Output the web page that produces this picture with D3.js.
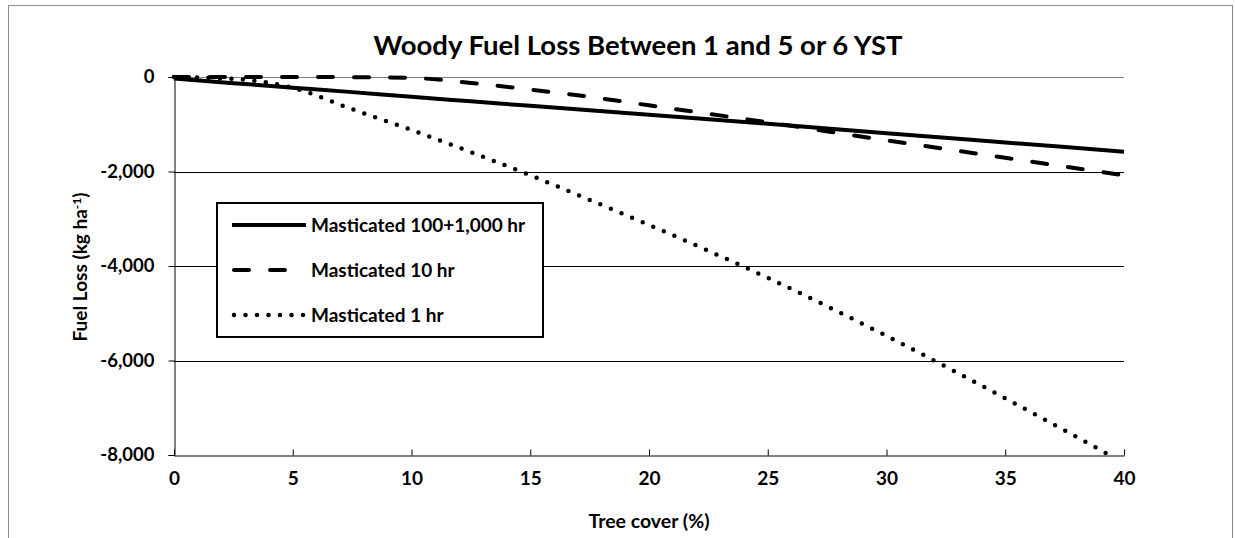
<!DOCTYPE html>
<html>
<head>
<meta charset="utf-8">
<script src="https://cdn.jsdelivr.net/npm/d3@7"></script>
<style>
  body { margin: 0; background: #fff; }
  text { font-family: Lato, "Open Sans", sans-serif; font-weight: bold; fill: #000; }
</style>
</head>
<body>
<div id="chart"></div>
<script>
// tree cover (%) where the curves were read
var coverX = [0, 2.5, 5, 7.5, 10, 12.5, 15, 17.5, 20, 25, 30, 35, 40];
// Masticated 100+1,000 hr
var loss1000 = [-30, -130, -225, -320, -420, -515, -610, -705, -800, -990, -1190, -1385, -1580];
// Masticated 10 hr
var loss10 = [0, 0, 0, -5, -20, -125, -265, -420, -600, -960, -1340, -1710, -2080];
// Masticated 1 hr
var loss1 = [0, -40, -230, -680, -1120, -1590, -2080, -2600, -3130, -4250, -5480, -6800, -8170];

var seriesNames = ["Masticated 100+1,000 hr", "Masticated 10 hr", "Masticated 1 hr"];
var xTicks = [0, 5, 10, 15, 20, 25, 30, 35, 40];
var yTicks = [0, -2000, -4000, -6000, -8000];

var width = 1235, height = 538;
var margin = {top: 77, right: 111, bottom: 83, left: 174};

var svg = d3.select("#chart").append("svg")
    .attr("width", width)
    .attr("height", height);

// outer chart frame
svg.append("rect")
    .attr("x", 8.5).attr("y", 5.5)
    .attr("width", 1224).attr("height", 560)
    .attr("fill", "none")
    .attr("stroke", "#8c8c8c")
    .attr("stroke-width", 1);

var x = d3.scaleLinear().domain([0, 40]).range([margin.left, width - margin.right]);
var y = d3.scaleLinear().domain([-8000, 0]).range([height - margin.bottom, margin.top]);

// excel style numbers, plain hyphen for minus
var fmt = function (d) { return d3.format(",")(d).replace("\u2212", "-"); };

// gridlines
svg.append("g")
    .selectAll("line")
    .data(yTicks.filter(function (d) { return d > -8000; }))
    .enter().append("line")
    .attr("x1", x(0)).attr("x2", x(40))
    .attr("y1", function (d) { return Math.round(y(d)) + 0.5; })
    .attr("y2", function (d) { return Math.round(y(d)) + 0.5; })
    .attr("stroke", function (d) { return d === 0 ? "#808080" : "#000"; })
    .attr("stroke-width", 1);

// axes
var yAxis = svg.append("g")
    .attr("transform", "translate(" + (Math.round(x(0)) + 0.5) + ",0)")
    .call(d3.axisLeft(y).tickValues(yTicks).tickSize(6).tickPadding(14).tickFormat(fmt));
yAxis.select(".domain").attr("stroke", "#000");
yAxis.selectAll(".tick line").attr("stroke", "#000");
yAxis.selectAll("text").style("font-size", "18.5px");

var xAxis = svg.append("g")
    .attr("transform", "translate(0," + (Math.round(y(-8000)) + 0.5) + ")")
    .call(d3.axisBottom(x).tickValues(xTicks).tickSizeInner(-6).tickSizeOuter(0).tickPadding(16));
xAxis.select(".domain").attr("stroke", "#000");
xAxis.selectAll(".tick line").attr("stroke", "#000");
xAxis.selectAll("text").style("font-size", "19px");

// lines
var rows = coverX.map(function (c, i) {
    return {x: c, a: loss1000[i], b: loss10[i], c: loss1[i]};
});

svg.append("clipPath").attr("id", "plotClip")
    .append("rect")
    .attr("x", x(0) - 3).attr("y", y(0) - 4)
    .attr("width", x(40) - x(0) + 6).attr("height", y(-8000) - y(0) + 4);

var styles = [
    {key: "a", dash: null},
    {key: "b", dash: "15,21"},
    {key: "c", dash: "0,11.5"}
];
var plot = svg.append("g").attr("clip-path", "url(#plotClip)");
styles.forEach(function (s) {
    var line = d3.line()
        .x(function (d) { return x(d.x); })
        .y(function (d) { return y(d[s.key]); })
        .curve(d3.curveMonotoneX);
    plot.append("path")
        .datum(rows)
        .attr("d", line)
        .attr("fill", "none")
        .attr("stroke", "#000")
        .attr("stroke-width", s.key === "c" ? 4.5 : 4)
        .attr("stroke-linecap", s.dash ? "round" : "butt")
        .attr("stroke-dasharray", s.dash);
});

// legend
var legend = svg.append("g").attr("transform", "translate(217,203)");
legend.append("rect")
    .attr("width", 326).attr("height", 134)
    .attr("fill", "#fff")
    .attr("stroke", "#000")
    .attr("stroke-width", 2);
seriesNames.forEach(function (name, i) {
    var ly = 22 + i * 45;
    legend.append("line")
        .attr("x1", i === 0 ? 15 : 17).attr("x2", 89)
        .attr("y1", ly).attr("y2", ly)
        .attr("stroke", "#000")
        .attr("stroke-width", i === 2 ? 4.5 : 4)
        .attr("stroke-linecap", i === 0 ? "butt" : "round")
        .attr("stroke-dasharray", styles[i].dash);
    legend.append("text")
        .attr("x", 94).attr("y", ly)
        .attr("dy", "0.36em")
        .style("font-size", "19px")
        .text(name);
});

// titles
svg.append("text")
    .attr("x", 638).attr("y", 55)
    .attr("text-anchor", "middle")
    .style("font-size", "27.5px")
    .text("Woody Fuel Loss Between 1 and 5 or 6 YST");

svg.append("text")
    .attr("x", 649).attr("y", 528)
    .attr("text-anchor", "middle")
    .style("font-size", "19.5px")
    .text("Tree cover (%)");

var yTitle = svg.append("text")
    .attr("transform", "translate(87,267) rotate(-90)")
    .attr("text-anchor", "middle")
    .style("font-size", "19px");
yTitle.append("tspan").text("Fuel Loss (kg ha");
yTitle.append("tspan").attr("dy", -6).style("font-size", "12px").text("-1");
yTitle.append("tspan").attr("dy", 6).text(")");
</script>
</body>
</html>
